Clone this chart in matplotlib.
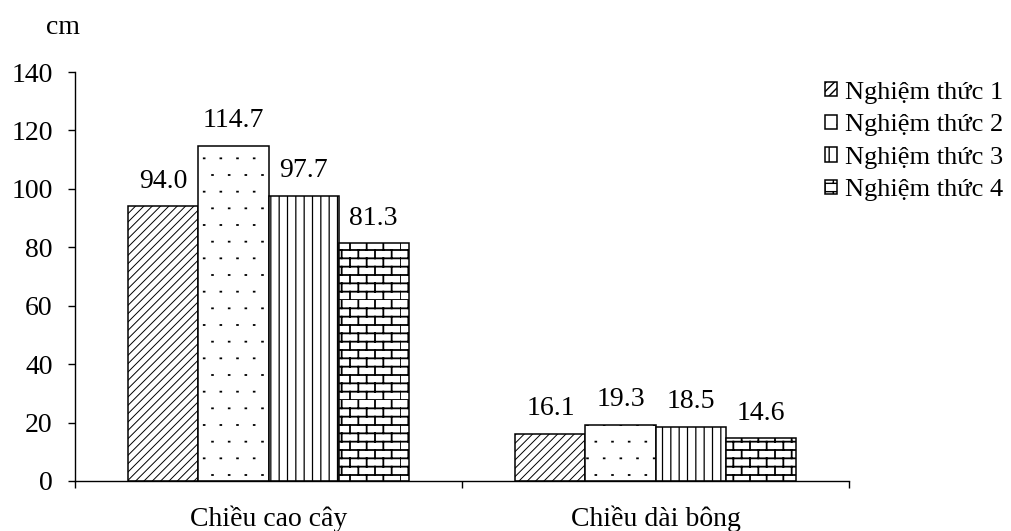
import warnings
import numpy as np
import matplotlib
matplotlib.use("Agg")
import matplotlib.pyplot as plt
from matplotlib import hatch as mhatch
from matplotlib.path import Path

warnings.filterwarnings("ignore")

categories = ["Chiều cao cây", "Chiều dài bông"]
series = ["Nghiệm thức 1", "Nghiệm thức 2", "Nghiệm thức 3", "Nghiệm thức 4"]
nt1 = [94.0, 16.1]
nt2 = [114.7, 19.3]
nt3 = [97.7, 18.5]
nt4 = [81.3, 14.6]
yticks = [0, 20, 40, 60, 80, 100, 120, 140]


# brick pattern: 'b' in the hatch string
class BrickHatch(mhatch.HatchPatternBase):
    def __init__(self, hatch, density):
        n = hatch.count('b')
        self.rows = 12 * n
        self.cols = 6 * n
        self.num_vertices = (self.rows + self.rows * self.cols) * 2 if n else 0

    def set_vertices_and_codes(self, vertices, codes):
        pts = []
        for r in range(self.rows):
            y = r / self.rows
            pts += [(0.0, y), (1.0, y)]
        for r in range(self.rows):
            y0 = r / self.rows
            y1 = (r + 1) / self.rows
            off = 0.5 / self.cols if r % 2 else 0.0
            for c in range(self.cols):
                xx = c / self.cols + off
                pts += [(xx, y0), (xx, y1)]
        vertices[:] = np.array(pts)
        codes[0::2] = Path.MOVETO
        codes[1::2] = Path.LINETO


# sparse tiny dots: 'd' in the hatch string
class DotHatch(mhatch.HatchPatternBase):
    def __init__(self, hatch, density):
        n = hatch.count('d')
        self.rows = 6 * n
        self.cols = 6 * n
        self.num_vertices = self.rows * self.cols * 2 if n else 0

    def set_vertices_and_codes(self, vertices, codes):
        pts = []
        e = 0.008
        for r in range(self.rows):
            y = (r + 0.5) / self.rows
            off = 0.5 / self.cols if r % 2 else 0.0
            for c in range(self.cols):
                xx = c / self.cols + off + 0.25 / self.cols
                pts += [(xx - e / 2, y), (xx + e / 2, y)]
        vertices[:] = np.array(pts)
        codes[0::2] = Path.MOVETO
        codes[1::2] = Path.LINETO


mhatch._hatch_types.append(BrickHatch)
mhatch._hatch_types.append(DotHatch)

plt.rcParams['font.family'] = ['Liberation Serif', 'DejaVu Serif']
plt.rcParams['font.size'] = 20

fig = plt.figure(figsize=(10.11, 5.31), dpi=100)
ax = fig.add_axes([0.0742, 0.0942, 0.7656, 0.7702])

x = np.arange(len(categories))
w = 0.181
hatches = ['////', 'd', '||', 'b']
hlw = [0.7, 1.3, 0.9, 1.3]
data = [nt1, nt2, nt3, nt4]

handles = []
for i, vals in enumerate(data):
    with plt.rc_context({'hatch.linewidth': hlw[i]}):
        bars = ax.bar(x + (i - 1.5) * w, vals, w, color='white',
                      edgecolor='black', linewidth=1.1, hatch=hatches[i],
                      label=series[i])
    handles.append(bars)
    for b, v in zip(bars, vals):
        ax.annotate(f"{v:.1f}", (b.get_x() + b.get_width() / 2, v),
                    xytext=(0, 9), textcoords='offset points',
                    ha='center', va='bottom')

ax.set_xlim(-0.5, 1.5)
ax.set_ylim(0, 140)
ax.set_yticks(yticks)
ax.set_xticks([-0.5, 0.5, 1.5])
ax.set_xticklabels([])
ax.set_xticks(x, minor=True)
ax.set_xticklabels(categories, minor=True)
ax.tick_params(axis='x', which='minor', length=0, pad=18)
ax.tick_params(axis='x', which='major', direction='out', length=5, width=1)
ax.tick_params(axis='y', direction='out', length=5, width=1, pad=11)

for s in ['top', 'right']:
    ax.spines[s].set_visible(False)
ax.spines['left'].set_linewidth(1)
ax.spines['bottom'].set_linewidth(1)

ax.text(-0.0155, 1.11, "cm", transform=ax.transAxes, ha='center', va='center')

fig.legend(handles=handles, loc='upper left', bbox_to_anchor=(0.806, 0.866),
           frameon=False, fontsize=19, handlelength=0.45, handleheight=0.45,
           handletextpad=0.3, labelspacing=0.4, borderaxespad=0)

fig.savefig("out.png", dpi=100)
